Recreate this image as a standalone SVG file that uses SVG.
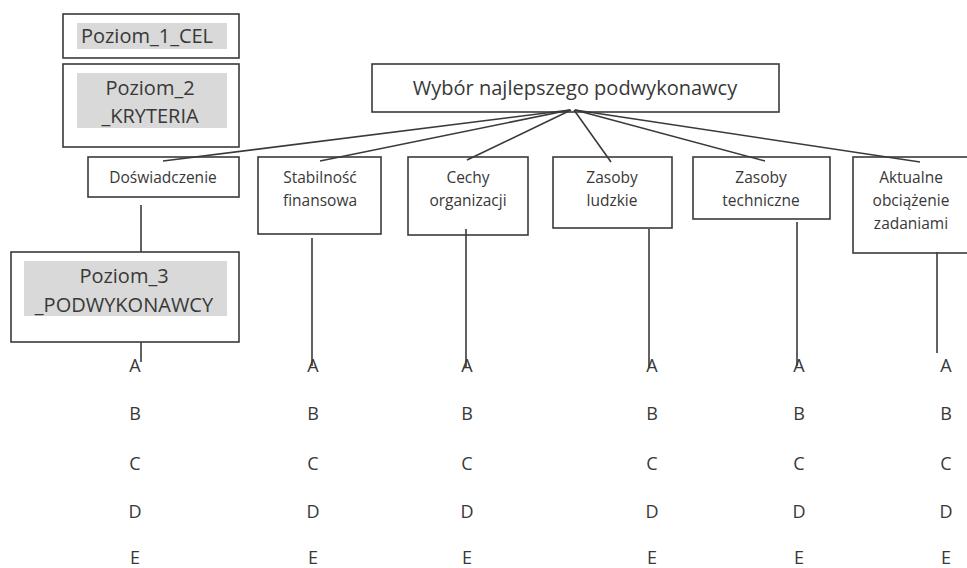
<svg xmlns="http://www.w3.org/2000/svg" width="967" height="568" viewBox="0 0 967 568">
<style>
.box{fill:#fff;stroke:#3a3a3a;stroke-width:1.6}
.hl{fill:#d9d9d9}
.t{font-family:"Open Sans","Liberation Sans",sans-serif;fill:#383838;text-anchor:middle}
.big{font-size:20px}
.mid{font-size:18px}
.goal{font-size:20px}
.sm{font-size:15.5px}
.ln{stroke:#3a3a3a;stroke-width:1.6;fill:none}
</style>
<rect width="967" height="568" fill="#fff"/>
<g id="legend1">
<rect class="box" x="63" y="14" width="176" height="44"/>
<rect class="hl" x="77" y="23" width="150" height="26"/>
<text class="t big" x="147" y="43">Poziom_1_CEL</text>
</g>
<g id="legend2">
<rect class="box" x="63" y="64" width="176" height="83"/>
<rect class="hl" x="77" y="73" width="150" height="55"/>
<text class="t big" x="150" y="95">Poziom_2</text>
<text class="t big" x="150" y="123">_KRYTERIA</text>
</g>
<g id="legend3">
<rect class="box" x="11" y="252" width="228" height="90"/>
<rect class="hl" x="24" y="261" width="203" height="55"/>
<text class="t big" x="124" y="283">Poziom_3</text>
<text class="t big" x="124" y="312">_PODWYKONAWCY</text>
</g>
<g id="goal">
<rect class="box" x="372" y="64" width="407" height="48"/>
<text class="t goal" x="575" y="95">Wybór najlepszego podwykonawcy</text>
</g>
<g id="c1">
<rect class="box" x="88" y="157" width="151" height="40"/>
<text class="t sm" x="163" y="183">Doświadczenie</text>
</g>
<g id="c2">
<rect class="box" x="258" y="157" width="123" height="77"/>
<text class="t sm" x="320" y="183">Stabilność</text>
<text class="t sm" x="320" y="206">finansowa</text>
</g>
<g id="c3">
<rect class="box" x="408" y="157" width="120" height="78"/>
<text class="t sm" x="468" y="183">Cechy</text>
<text class="t sm" x="468" y="206">organizacji</text>
</g>
<g id="c4">
<rect class="box" x="553" y="157" width="119" height="71"/>
<text class="t sm" x="612" y="183">Zasoby</text>
<text class="t sm" x="612" y="206">ludzkie</text>
</g>
<g id="c5">
<rect class="box" x="693" y="157" width="137" height="62"/>
<text class="t sm" x="761" y="183">Zasoby</text>
<text class="t sm" x="761" y="206">techniczne</text>
</g>
<g id="c6">
<rect class="box" x="853" y="157" width="120" height="96"/>
<text class="t sm" x="911" y="183">Aktualne</text>
<text class="t sm" x="911" y="206">obciążenie</text>
<text class="t sm" x="911" y="229">zadaniami</text>
</g>
<g id="connectors">
<line class="ln" x1="570" y1="110" x2="163" y2="161"/>
<line class="ln" x1="570" y1="110" x2="320" y2="161"/>
<line class="ln" x1="571" y1="110" x2="467" y2="160"/>
<line class="ln" x1="574" y1="110" x2="611" y2="162"/>
<line class="ln" x1="575" y1="110" x2="765" y2="161"/>
<line class="ln" x1="575" y1="110" x2="920" y2="162"/>
<line class="ln" x1="141" y1="205" x2="141" y2="252"/>
<line class="ln" x1="141" y1="342" x2="141" y2="362"/>
<line class="ln" x1="312" y1="238" x2="312" y2="366"/>
<line class="ln" x1="466" y1="229" x2="466" y2="367"/>
<line class="ln" x1="649" y1="229" x2="649" y2="367"/>
<line class="ln" x1="797" y1="222" x2="797" y2="366"/>
<line class="ln" x1="937" y1="252" x2="937" y2="353"/>
</g>
<g id="alts" class="t mid">
<text x="135" y="372">A</text><text x="135" y="420">B</text><text x="135" y="470">C</text><text x="135" y="518">D</text><text x="135" y="564">E</text>
<text x="313" y="372">A</text><text x="313" y="420">B</text><text x="313" y="470">C</text><text x="313" y="518">D</text><text x="313" y="564">E</text>
<text x="467" y="372">A</text><text x="467" y="420">B</text><text x="467" y="470">C</text><text x="467" y="518">D</text><text x="467" y="564">E</text>
<text x="652" y="372">A</text><text x="652" y="420">B</text><text x="652" y="470">C</text><text x="652" y="518">D</text><text x="652" y="564">E</text>
<text x="799" y="372">A</text><text x="799" y="420">B</text><text x="799" y="470">C</text><text x="799" y="518">D</text><text x="799" y="564">E</text>
<text x="946" y="372">A</text><text x="946" y="420">B</text><text x="946" y="470">C</text><text x="946" y="518">D</text><text x="946" y="564">E</text>
</g>
</svg>
